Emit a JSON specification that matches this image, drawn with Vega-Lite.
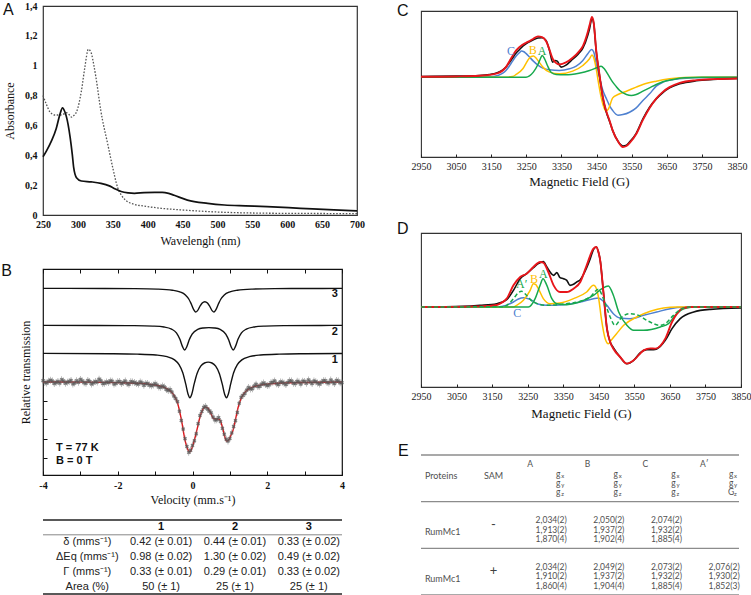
{
"$schema": "https://vega.github.io/schema/vega-lite/v6.json",
"background": "white",
"padding": {"left": 0, "top": 0, "right": 0, "bottom": 0},
"config": {"view": {"stroke": null}, "axis": {"grid": false}},
"datasets": {
"absorb": [
{"nm":250,"abs":0.39,"s":"solid"},{"nm":255,"abs":0.43,"s":"solid"},{"nm":262,"abs":0.495,"s":"solid"},{"nm":269,"abs":0.58,"s":"solid"},{"nm":274,"abs":0.67,"s":"solid"},{"nm":278,"abs":0.718,"s":"solid"},{"nm":281,"abs":0.695,"s":"solid"},{"nm":286,"abs":0.606,"s":"solid"},{"nm":289,"abs":0.517,"s":"solid"},{"nm":292,"abs":0.405,"s":"solid"},{"nm":294,"abs":0.317,"s":"solid"},{"nm":298,"abs":0.25,"s":"solid"},{"nm":305,"abs":0.228,"s":"solid"},{"nm":319,"abs":0.222,"s":"solid"},{"nm":333,"abs":0.212,"s":"solid"},{"nm":345,"abs":0.195,"s":"solid"},{"nm":352,"abs":0.178,"s":"solid"},{"nm":362,"abs":0.157,"s":"solid"},{"nm":372,"abs":0.148,"s":"solid"},{"nm":381,"abs":0.145,"s":"solid"},{"nm":395,"abs":0.15,"s":"solid"},{"nm":410,"abs":0.152,"s":"solid"},{"nm":421,"abs":0.152,"s":"solid"},{"nm":430,"abs":0.145,"s":"solid"},{"nm":438,"abs":0.132,"s":"solid"},{"nm":457,"abs":0.1,"s":"solid"},{"nm":486,"abs":0.078,"s":"solid"},{"nm":510,"abs":0.067,"s":"solid"},{"nm":540,"abs":0.061,"s":"solid"},{"nm":571,"abs":0.056,"s":"solid"},{"nm":619,"abs":0.045,"s":"solid"},{"nm":667,"abs":0.034,"s":"solid"},{"nm":700,"abs":0.028,"s":"solid"},
{"nm":250,"abs":0.8,"s":"dotted"},{"nm":255,"abs":0.74,"s":"dotted"},{"nm":260,"abs":0.69,"s":"dotted"},{"nm":267,"abs":0.67,"s":"dotted"},{"nm":274,"abs":0.67,"s":"dotted"},{"nm":279,"abs":0.675,"s":"dotted"},{"nm":284,"abs":0.685,"s":"dotted"},{"nm":288,"abs":0.67,"s":"dotted"},{"nm":291,"abs":0.655,"s":"dotted"},{"nm":295,"abs":0.67,"s":"dotted"},{"nm":298,"abs":0.69,"s":"dotted"},{"nm":305,"abs":0.83,"s":"dotted"},{"nm":310,"abs":0.99,"s":"dotted"},{"nm":315,"abs":1.11,"s":"dotted"},{"nm":319,"abs":1.087,"s":"dotted"},{"nm":323,"abs":1.0,"s":"dotted"},{"nm":326,"abs":0.918,"s":"dotted"},{"nm":333,"abs":0.695,"s":"dotted"},{"nm":343,"abs":0.47,"s":"dotted"},{"nm":350,"abs":0.316,"s":"dotted"},{"nm":357,"abs":0.183,"s":"dotted"},{"nm":362,"abs":0.135,"s":"dotted"},{"nm":367,"abs":0.105,"s":"dotted"},{"nm":381,"abs":0.071,"s":"dotted"},{"nm":395,"abs":0.06,"s":"dotted"},{"nm":419,"abs":0.045,"s":"dotted"},{"nm":452,"abs":0.033,"s":"dotted"},{"nm":500,"abs":0.02,"s":"dotted"},{"nm":571,"abs":0.012,"s":"dotted"},{"nm":650,"abs":0.01,"s":"dotted"},{"nm":700,"abs":0.009,"s":"dotted"}
],
"mossComp": [
{"v":-4,"t":186.6,"s":"3"},{"v":-3.34,"t":186.6,"s":"3"},{"v":-2.34,"t":186.5,"s":"3"},{"v":-1.54,"t":186.35,"s":"3"},{"v":-0.94,"t":185.9,"s":"3"},{"v":-0.54,"t":184.8,"s":"3"},{"v":-0.34,"t":183.2,"s":"3"},{"v":-0.19,"t":180.1,"s":"3"},{"v":-0.1,"t":176.0,"s":"3"},{"v":-0.04,"t":171.6,"s":"3"},{"v":0.04,"t":164.8,"s":"3"},{"v":0.085,"t":163.0,"s":"3"},{"v":0.13,"t":164.1,"s":"3"},{"v":0.2,"t":168.75,"s":"3"},{"v":0.26,"t":172.0,"s":"3"},{"v":0.33,"t":173.3,"s":"3"},{"v":0.4,"t":172.0,"s":"3"},{"v":0.46,"t":168.75,"s":"3"},{"v":0.53,"t":164.1,"s":"3"},{"v":0.575,"t":163.0,"s":"3"},{"v":0.62,"t":164.8,"s":"3"},{"v":0.7,"t":171.6,"s":"3"},{"v":0.76,"t":176.0,"s":"3"},{"v":0.85,"t":180.1,"s":"3"},{"v":1.0,"t":183.2,"s":"3"},{"v":1.2,"t":184.8,"s":"3"},{"v":1.6,"t":185.9,"s":"3"},{"v":2.2,"t":186.35,"s":"3"},{"v":3.0,"t":186.5,"s":"3"},{"v":4,"t":186.6,"s":"3"},
{"v":-4,"t":149.6,"s":"2"},{"v":-2.56,"t":149.55,"s":"2"},{"v":-1.56,"t":149.35,"s":"2"},{"v":-1.06,"t":148.9,"s":"2"},{"v":-0.76,"t":148.0,"s":"2"},{"v":-0.56,"t":145.9,"s":"2"},{"v":-0.43,"t":142.1,"s":"2"},{"v":-0.34,"t":135.9,"s":"2"},{"v":-0.27,"t":128.6,"s":"2"},{"v":-0.21,"t":125.0,"s":"2"},{"v":-0.15,"t":128.5,"s":"2"},{"v":-0.09,"t":134.9,"s":"2"},{"v":-0.01,"t":140.9,"s":"2"},{"v":0.14,"t":145.6,"s":"2"},{"v":0.29,"t":147.0,"s":"2"},{"v":0.44,"t":147.4,"s":"2"},{"v":0.59,"t":147.0,"s":"2"},{"v":0.74,"t":145.6,"s":"2"},{"v":0.89,"t":140.9,"s":"2"},{"v":0.97,"t":134.9,"s":"2"},{"v":1.03,"t":128.5,"s":"2"},{"v":1.09,"t":125.0,"s":"2"},{"v":1.15,"t":128.6,"s":"2"},{"v":1.22,"t":135.9,"s":"2"},{"v":1.31,"t":142.1,"s":"2"},{"v":1.44,"t":145.9,"s":"2"},{"v":1.64,"t":148.0,"s":"2"},{"v":1.94,"t":148.9,"s":"2"},{"v":2.44,"t":149.35,"s":"2"},{"v":3.44,"t":149.55,"s":"2"},{"v":4,"t":149.6,"s":"2"},
{"v":-4,"t":121.6,"s":"1"},{"v":-2.18,"t":121.3,"s":"1"},{"v":-1.48,"t":120.9,"s":"1"},{"v":-0.98,"t":120.0,"s":"1"},{"v":-0.68,"t":118.3,"s":"1"},{"v":-0.48,"t":115.1,"s":"1"},{"v":-0.36,"t":110.4,"s":"1"},{"v":-0.26,"t":102.3,"s":"1"},{"v":-0.18,"t":90.8,"s":"1"},{"v":-0.12,"t":81.05,"s":"1"},{"v":-0.07,"t":77.3,"s":"1"},{"v":-0.02,"t":80.8,"s":"1"},{"v":0.04,"t":90.3,"s":"1"},{"v":0.12,"t":101.3,"s":"1"},{"v":0.22,"t":108.8,"s":"1"},{"v":0.32,"t":112.0,"s":"1"},{"v":0.42,"t":112.9,"s":"1"},{"v":0.52,"t":112.0,"s":"1"},{"v":0.62,"t":108.8,"s":"1"},{"v":0.72,"t":101.3,"s":"1"},{"v":0.8,"t":90.3,"s":"1"},{"v":0.86,"t":80.8,"s":"1"},{"v":0.91,"t":77.3,"s":"1"},{"v":0.96,"t":81.05,"s":"1"},{"v":1.02,"t":90.8,"s":"1"},{"v":1.1,"t":102.3,"s":"1"},{"v":1.2,"t":110.4,"s":"1"},{"v":1.32,"t":115.1,"s":"1"},{"v":1.52,"t":118.3,"s":"1"},{"v":1.82,"t":120.0,"s":"1"},{"v":2.32,"t":120.9,"s":"1"},{"v":3.02,"t":121.3,"s":"1"},{"v":4,"t":121.5,"s":"1"}
],
"mossFit": [
{"v":-4,"t":93.05},{"v":-3,"t":92.9},{"v":-2,"t":92.4},{"v":-1.5,"t":91.8},{"v":-1.0,"t":90.0},{"v":-0.8,"t":88.2},{"v":-0.6,"t":84.2},{"v":-0.5,"t":80.0},{"v":-0.4,"t":72.0},{"v":-0.3,"t":55.8},{"v":-0.2,"t":34.8},{"v":-0.12,"t":25.1},{"v":-0.07,"t":23.15},{"v":0.0,"t":28.4},{"v":0.06,"t":36.2},{"v":0.12,"t":45.35},{"v":0.2,"t":58.05},{"v":0.28,"t":65.84},{"v":0.33,"t":67.9},{"v":0.4,"t":67.4},{"v":0.48,"t":62.5},{"v":0.56,"t":56.5},{"v":0.64,"t":56.0},{"v":0.72,"t":55.6},{"v":0.8,"t":47.9},{"v":0.86,"t":38.7},{"v":0.91,"t":33.9},{"v":0.96,"t":34.7},{"v":1.02,"t":39.05},{"v":1.09,"t":45.4},{"v":1.15,"t":55.5},{"v":1.22,"t":67.5},{"v":1.3,"t":76.6},{"v":1.4,"t":82.6},{"v":1.5,"t":85.9},{"v":1.7,"t":89.0},{"v":2.0,"t":90.9},{"v":2.5,"t":92.1},{"v":3,"t":92.55},{"v":4,"t":92.93}
],
"mossPts": [
{"v":-4.0,"t":94.3},{"v":-3.9,"t":92.1},{"v":-3.8,"t":94.8},{"v":-3.7,"t":91.6},{"v":-3.6,"t":93.6},{"v":-3.5,"t":95.3},{"v":-3.4,"t":91.8},{"v":-3.3,"t":93.4},{"v":-3.2,"t":91.1},{"v":-3.1,"t":94.2},{"v":-3.0,"t":95.6},{"v":-2.9,"t":92.3},{"v":-2.8,"t":94.4},{"v":-2.7,"t":91.1},{"v":-2.6,"t":93.4},{"v":-2.5,"t":95.8},{"v":-2.4,"t":91.5},{"v":-2.3,"t":93.0},{"v":-2.2,"t":94.0},{"v":-2.1,"t":90.9},{"v":-2.0,"t":93.2},{"v":-1.9,"t":91.5},{"v":-1.8,"t":93.9},{"v":-1.7,"t":90.7},{"v":-1.6,"t":92.9},{"v":-1.5,"t":91.4},{"v":-1.4,"t":93.0},{"v":-1.3,"t":89.7},{"v":-1.2,"t":91.4},{"v":-1.1,"t":89.3},{"v":-1.0,"t":91.3},{"v":-0.9,"t":87.9},{"v":-0.8,"t":88.9},{"v":-0.7,"t":85.4},{"v":-0.6,"t":85.3},{"v":-0.5,"t":79.0},{"v":-0.4,"t":73.3},{"v":-0.3,"t":54.4},{"v":-0.2,"t":36.3},{"v":-0.1,"t":22.7},{"v":0.0,"t":29.5},{"v":0.1,"t":41.2},{"v":0.2,"t":59.5},{"v":0.3,"t":67.6},{"v":0.4,"t":66.0},{"v":0.5,"t":62.2},{"v":0.6,"t":55.1},{"v":0.7,"t":57.3},{"v":0.8,"t":46.7},{"v":0.9,"t":35.8},{"v":1.0,"t":36.4},{"v":1.1,"t":48.4},{"v":1.2,"t":62.5},{"v":1.3,"t":77.7},{"v":1.4,"t":81.4},{"v":1.5,"t":87.4},{"v":1.6,"t":86.3},{"v":1.7,"t":90.8},{"v":1.8,"t":88.7},{"v":1.9,"t":91.9},{"v":2.0,"t":89.5},{"v":2.1,"t":92.3},{"v":2.2,"t":94.1},{"v":2.3,"t":90.4},{"v":2.4,"t":92.8},{"v":2.5,"t":90.4},{"v":2.6,"t":94.2},{"v":2.7,"t":91.8},{"v":2.8,"t":93.7},{"v":2.9,"t":90.9},{"v":3.0,"t":93.6},{"v":3.1,"t":95.1},{"v":3.2,"t":91.5},{"v":3.3,"t":93.3},{"v":3.4,"t":90.9},{"v":3.5,"t":94.2},{"v":3.6,"t":92.4},{"v":3.7,"t":94.9},{"v":3.8,"t":91.5},{"v":3.9,"t":93.9},{"v":4.0,"t":92.3},
{"v":-3.95,"t":92.6},{"v":-3.85,"t":93.7},{"v":-3.75,"t":93.9},{"v":-3.65,"t":92.5},{"v":-3.55,"t":91.9},{"v":-3.45,"t":94.0},{"v":-3.35,"t":92.8},{"v":-3.25,"t":94.5},{"v":-3.15,"t":92.0},{"v":-3.05,"t":92.7},{"v":-2.95,"t":94.1},{"v":-2.85,"t":91.7},{"v":-2.75,"t":93.6},{"v":-2.65,"t":92.2},{"v":-2.55,"t":93.0},{"v":-2.45,"t":94.2},{"v":-2.35,"t":91.8},{"v":-2.25,"t":92.4},{"v":-2.15,"t":93.8},{"v":-2.05,"t":91.7},{"v":-1.95,"t":93.4},{"v":-1.85,"t":92.6},{"v":-1.75,"t":91.6},{"v":-1.65,"t":93.3},{"v":-1.55,"t":92.4},{"v":-1.45,"t":90.9},{"v":-1.35,"t":92.1},{"v":-1.25,"t":91.6},{"v":-1.15,"t":89.9},{"v":-1.05,"t":90.1},{"v":-0.95,"t":89.9},{"v":-0.85,"t":87.8},{"v":-0.75,"t":87.9},{"v":-0.65,"t":84.6},{"v":-0.55,"t":82.9},{"v":-0.45,"t":76.6},{"v":-0.35,"t":63.8},{"v":-0.25,"t":45.9},{"v":-0.15,"t":28.6},{"v":-0.05,"t":24.7},{"v":0.05,"t":34.2},{"v":0.15,"t":51.3},{"v":0.25,"t":63.4},{"v":0.35,"t":68.4},{"v":0.45,"t":63.9},{"v":0.55,"t":57.9},{"v":0.65,"t":55.2},{"v":0.75,"t":53.6},{"v":0.85,"t":40.8},{"v":0.95,"t":33.9},{"v":1.05,"t":42.1},{"v":1.15,"t":54.3},{"v":1.25,"t":71.8},{"v":1.35,"t":79.6},{"v":1.45,"t":84.8},{"v":1.55,"t":86.1},{"v":1.65,"t":88.9},{"v":1.75,"t":88.4},{"v":1.85,"t":90.8},{"v":1.95,"t":90.6},{"v":2.05,"t":90.1},{"v":2.15,"t":92.7},{"v":2.25,"t":91.3},{"v":2.35,"t":93.1},{"v":2.45,"t":91.7},{"v":2.55,"t":92.5},{"v":2.65,"t":93.9},{"v":2.75,"t":91.6},{"v":2.85,"t":92.9},{"v":2.95,"t":93.8},{"v":3.05,"t":91.8},{"v":3.15,"t":93.1},{"v":3.25,"t":94.0},{"v":3.35,"t":91.9},{"v":3.45,"t":92.7},{"v":3.55,"t":94.3},{"v":3.65,"t":92.1},{"v":3.75,"t":93.0},{"v":3.85,"t":94.4},{"v":3.95,"t":92.2}
],
"mossLab": [{"v":3.81,"t":180.7,"lab":"3"},{"v":3.81,"t":143.3,"lab":"2"},{"v":3.81,"t":115,"lab":"1"}],
"mossCond": [{"v":-3.65,"t":27.3,"lab":"T = 77 K"},{"v":-3.65,"t":14,"lab":"B = 0 T"}],
"eprC": [
{"G":2950,"i":2,"s":"exp"},{"G":3050,"i":3,"s":"exp"},{"G":3116,"i":5,"s":"exp"},{"G":3145,"i":8,"s":"exp"},{"G":3169,"i":14,"s":"exp"},{"G":3183,"i":22,"s":"exp"},{"G":3192,"i":30,"s":"exp"},{"G":3206,"i":50,"s":"exp"},{"G":3221,"i":72,"s":"exp"},{"G":3230,"i":82,"s":"exp"},{"G":3240,"i":93,"s":"exp"},{"G":3249,"i":100,"s":"exp"},{"G":3259,"i":106,"s":"exp"},{"G":3270,"i":112,"s":"exp"},{"G":3283,"i":117,"s":"exp"},{"G":3295,"i":118,"s":"exp"},{"G":3306,"i":110,"s":"exp"},{"G":3316,"i":80,"s":"exp"},{"G":3325,"i":45,"s":"exp"},{"G":3332,"i":50,"s":"exp"},{"G":3338,"i":48,"s":"exp"},{"G":3349,"i":30,"s":"exp"},{"G":3363,"i":36,"s":"exp"},{"G":3373,"i":45,"s":"exp"},{"G":3382,"i":54,"s":"exp"},{"G":3392,"i":63,"s":"exp"},{"G":3401,"i":73,"s":"exp"},{"G":3411,"i":87,"s":"exp"},{"G":3425,"i":125,"s":"exp"},{"G":3430,"i":145,"s":"exp"},{"G":3437,"i":176,"s":"exp"},{"G":3442,"i":160,"s":"exp"},{"G":3449,"i":78,"s":"exp"},{"G":3458,"i":8,"s":"exp"},{"G":3468,"i":-62,"s":"exp"},{"G":3477,"i":-102,"s":"exp"},{"G":3487,"i":-132,"s":"exp"},{"G":3496,"i":-160,"s":"exp"},{"G":3511,"i":-192,"s":"exp"},{"G":3525,"i":-206,"s":"exp"},{"G":3535,"i":-204,"s":"exp"},{"G":3545,"i":-193,"s":"exp"},{"G":3563,"i":-168,"s":"exp"},{"G":3582,"i":-125,"s":"exp"},{"G":3601,"i":-90,"s":"exp"},{"G":3620,"i":-65,"s":"exp"},{"G":3639,"i":-46,"s":"exp"},{"G":3658,"i":-32,"s":"exp"},{"G":3687,"i":-20,"s":"exp"},{"G":3734,"i":-11,"s":"exp"},{"G":3782,"i":-7,"s":"exp"},{"G":3850,"i":-4,"s":"exp"},
{"G":2950,"i":1,"s":"fit"},{"G":3050,"i":2,"s":"fit"},{"G":3116,"i":4,"s":"fit"},{"G":3169,"i":12,"s":"fit"},{"G":3192,"i":30,"s":"fit"},{"G":3206,"i":55,"s":"fit"},{"G":3221,"i":80,"s":"fit"},{"G":3230,"i":90,"s":"fit"},{"G":3249,"i":103,"s":"fit"},{"G":3259,"i":108,"s":"fit"},{"G":3270,"i":115,"s":"fit"},{"G":3283,"i":122,"s":"fit"},{"G":3295,"i":120,"s":"fit"},{"G":3306,"i":108,"s":"fit"},{"G":3316,"i":82,"s":"fit"},{"G":3325,"i":55,"s":"fit"},{"G":3335,"i":42,"s":"fit"},{"G":3344,"i":38,"s":"fit"},{"G":3363,"i":44,"s":"fit"},{"G":3382,"i":58,"s":"fit"},{"G":3401,"i":78,"s":"fit"},{"G":3411,"i":93,"s":"fit"},{"G":3425,"i":135,"s":"fit"},{"G":3430,"i":155,"s":"fit"},{"G":3437,"i":180,"s":"fit"},{"G":3442,"i":162,"s":"fit"},{"G":3449,"i":80,"s":"fit"},{"G":3458,"i":10,"s":"fit"},{"G":3468,"i":-60,"s":"fit"},{"G":3477,"i":-100,"s":"fit"},{"G":3487,"i":-130,"s":"fit"},{"G":3496,"i":-160,"s":"fit"},{"G":3511,"i":-192,"s":"fit"},{"G":3525,"i":-209,"s":"fit"},{"G":3535,"i":-206,"s":"fit"},{"G":3545,"i":-196,"s":"fit"},{"G":3563,"i":-170,"s":"fit"},{"G":3582,"i":-128,"s":"fit"},{"G":3601,"i":-92,"s":"fit"},{"G":3620,"i":-64,"s":"fit"},{"G":3639,"i":-44,"s":"fit"},{"G":3658,"i":-30,"s":"fit"},{"G":3687,"i":-17,"s":"fit"},{"G":3734,"i":-9,"s":"fit"},{"G":3782,"i":-6,"s":"fit"},{"G":3850,"i":-4,"s":"fit"},
{"G":2950,"i":0,"s":"C"},{"G":3145,"i":1,"s":"C"},{"G":3169,"i":5,"s":"C"},{"G":3183,"i":12,"s":"C"},{"G":3192,"i":20,"s":"C"},{"G":3206,"i":40,"s":"C"},{"G":3221,"i":63,"s":"C"},{"G":3230,"i":73,"s":"C"},{"G":3236,"i":78,"s":"C"},{"G":3243,"i":76,"s":"C"},{"G":3249,"i":71,"s":"C"},{"G":3259,"i":60,"s":"C"},{"G":3270,"i":48,"s":"C"},{"G":3283,"i":36,"s":"C"},{"G":3297,"i":27,"s":"C"},{"G":3316,"i":22,"s":"C"},{"G":3344,"i":20,"s":"C"},{"G":3373,"i":25,"s":"C"},{"G":3392,"i":33,"s":"C"},{"G":3411,"i":50,"s":"C"},{"G":3425,"i":70,"s":"C"},{"G":3436,"i":83,"s":"C"},{"G":3442,"i":75,"s":"C"},{"G":3449,"i":40,"s":"C"},{"G":3458,"i":0,"s":"C"},{"G":3468,"i":-40,"s":"C"},{"G":3477,"i":-62,"s":"C"},{"G":3487,"i":-85,"s":"C"},{"G":3496,"i":-100,"s":"C"},{"G":3511,"i":-114,"s":"C"},{"G":3525,"i":-112,"s":"C"},{"G":3544,"i":-105,"s":"C"},{"G":3563,"i":-92,"s":"C"},{"G":3582,"i":-70,"s":"C"},{"G":3601,"i":-50,"s":"C"},{"G":3620,"i":-27,"s":"C"},{"G":3639,"i":-15,"s":"C"},{"G":3668,"i":-7,"s":"C"},{"G":3706,"i":-3,"s":"C"},{"G":3782,"i":-1,"s":"C"},{"G":3850,"i":0,"s":"C"},
{"G":2950,"i":0,"s":"B"},{"G":3192,"i":0,"s":"B"},{"G":3211,"i":2,"s":"B"},{"G":3221,"i":8,"s":"B"},{"G":3240,"i":25,"s":"B"},{"G":3254,"i":50,"s":"B"},{"G":3264,"i":62,"s":"B"},{"G":3270,"i":63,"s":"B"},{"G":3277,"i":58,"s":"B"},{"G":3283,"i":50,"s":"B"},{"G":3297,"i":30,"s":"B"},{"G":3316,"i":15,"s":"B"},{"G":3344,"i":10,"s":"B"},{"G":3382,"i":18,"s":"B"},{"G":3411,"i":35,"s":"B"},{"G":3430,"i":55,"s":"B"},{"G":3437,"i":66,"s":"B"},{"G":3442,"i":58,"s":"B"},{"G":3449,"i":25,"s":"B"},{"G":3456,"i":-20,"s":"B"},{"G":3463,"i":-60,"s":"B"},{"G":3470,"i":-88,"s":"B"},{"G":3477,"i":-102,"s":"B"},{"G":3484,"i":-95,"s":"B"},{"G":3496,"i":-62,"s":"B"},{"G":3511,"i":-52,"s":"B"},{"G":3535,"i":-42,"s":"B"},{"G":3563,"i":-30,"s":"B"},{"G":3582,"i":-22,"s":"B"},{"G":3620,"i":-12,"s":"B"},{"G":3658,"i":-5,"s":"B"},{"G":3700,"i":-1,"s":"B"},{"G":3750,"i":0,"s":"B"},{"G":3850,"i":0,"s":"B"},
{"G":2950,"i":0,"s":"A"},{"G":3249,"i":0,"s":"A"},{"G":3259,"i":4,"s":"A"},{"G":3270,"i":15,"s":"A"},{"G":3283,"i":38,"s":"A"},{"G":3290,"i":55,"s":"A"},{"G":3295,"i":65,"s":"A"},{"G":3302,"i":55,"s":"A"},{"G":3310,"i":35,"s":"A"},{"G":3321,"i":14,"s":"A"},{"G":3335,"i":8,"s":"A"},{"G":3360,"i":7,"s":"A"},{"G":3400,"i":12,"s":"A"},{"G":3430,"i":20,"s":"A"},{"G":3450,"i":28,"s":"A"},{"G":3463,"i":33,"s":"A"},{"G":3472,"i":25,"s":"A"},{"G":3487,"i":0,"s":"A"},{"G":3496,"i":-15,"s":"A"},{"G":3506,"i":-28,"s":"A"},{"G":3516,"i":-40,"s":"A"},{"G":3535,"i":-52,"s":"A"},{"G":3549,"i":-55,"s":"A"},{"G":3563,"i":-52,"s":"A"},{"G":3582,"i":-42,"s":"A"},{"G":3601,"i":-32,"s":"A"},{"G":3620,"i":-22,"s":"A"},{"G":3639,"i":-14,"s":"A"},{"G":3668,"i":-7,"s":"A"},{"G":3700,"i":-2,"s":"A"},{"G":3750,"i":0,"s":"A"},{"G":3850,"i":0,"s":"A"}
],
"eprCLab": [{"G":3206,"i":78,"t":"C","s":"C"},{"G":3268,"i":80,"t":"B","s":"B"},{"G":3295,"i":78,"t":"A","s":"A"}],
"eprD": [
{"G":2950,"i":0,"s":"exp"},{"G":3069,"i":2,"s":"exp"},{"G":3116,"i":5,"s":"exp"},{"G":3163,"i":10,"s":"exp"},{"G":3191,"i":22,"s":"exp"},{"G":3210,"i":50,"s":"exp"},{"G":3229,"i":85,"s":"exp"},{"G":3247,"i":100,"s":"exp"},{"G":3266,"i":118,"s":"exp"},{"G":3280,"i":130,"s":"exp"},{"G":3294,"i":136,"s":"exp"},{"G":3304,"i":120,"s":"exp"},{"G":3313,"i":105,"s":"exp"},{"G":3323,"i":95,"s":"exp"},{"G":3332,"i":103,"s":"exp"},{"G":3341,"i":88,"s":"exp"},{"G":3351,"i":85,"s":"exp"},{"G":3360,"i":80,"s":"exp"},{"G":3369,"i":65,"s":"exp"},{"G":3379,"i":68,"s":"exp"},{"G":3388,"i":75,"s":"exp"},{"G":3398,"i":82,"s":"exp"},{"G":3407,"i":98,"s":"exp"},{"G":3416,"i":118,"s":"exp"},{"G":3426,"i":145,"s":"exp"},{"G":3435,"i":172,"s":"exp"},{"G":3443,"i":180,"s":"exp"},{"G":3449,"i":165,"s":"exp"},{"G":3454,"i":140,"s":"exp"},{"G":3463,"i":45,"s":"exp"},{"G":3473,"i":-65,"s":"exp"},{"G":3482,"i":-105,"s":"exp"},{"G":3491,"i":-122,"s":"exp"},{"G":3510,"i":-150,"s":"exp"},{"G":3529,"i":-170,"s":"exp"},{"G":3548,"i":-160,"s":"exp"},{"G":3567,"i":-137,"s":"exp"},{"G":3585,"i":-128,"s":"exp"},{"G":3604,"i":-128,"s":"exp"},{"G":3623,"i":-118,"s":"exp"},{"G":3637,"i":-100,"s":"exp"},{"G":3656,"i":-65,"s":"exp"},{"G":3679,"i":-35,"s":"exp"},{"G":3717,"i":-15,"s":"exp"},{"G":3764,"i":-7,"s":"exp"},{"G":3850,"i":-3,"s":"exp"},
{"G":2950,"i":0,"s":"fit"},{"G":3116,"i":2,"s":"fit"},{"G":3163,"i":6,"s":"fit"},{"G":3172,"i":10,"s":"fit"},{"G":3191,"i":25,"s":"fit"},{"G":3210,"i":65,"s":"fit"},{"G":3229,"i":90,"s":"fit"},{"G":3247,"i":100,"s":"fit"},{"G":3266,"i":120,"s":"fit"},{"G":3285,"i":135,"s":"fit"},{"G":3294,"i":133,"s":"fit"},{"G":3308,"i":105,"s":"fit"},{"G":3323,"i":65,"s":"fit"},{"G":3341,"i":45,"s":"fit"},{"G":3360,"i":45,"s":"fit"},{"G":3379,"i":55,"s":"fit"},{"G":3398,"i":75,"s":"fit"},{"G":3416,"i":125,"s":"fit"},{"G":3435,"i":175,"s":"fit"},{"G":3443,"i":180,"s":"fit"},{"G":3449,"i":165,"s":"fit"},{"G":3454,"i":140,"s":"fit"},{"G":3463,"i":45,"s":"fit"},{"G":3473,"i":-65,"s":"fit"},{"G":3482,"i":-105,"s":"fit"},{"G":3491,"i":-125,"s":"fit"},{"G":3510,"i":-150,"s":"fit"},{"G":3529,"i":-170,"s":"fit"},{"G":3548,"i":-160,"s":"fit"},{"G":3576,"i":-130,"s":"fit"},{"G":3595,"i":-124,"s":"fit"},{"G":3609,"i":-125,"s":"fit"},{"G":3637,"i":-95,"s":"fit"},{"G":3656,"i":-45,"s":"fit"},{"G":3670,"i":-20,"s":"fit"},{"G":3684,"i":-5,"s":"fit"},{"G":3707,"i":0,"s":"fit"},{"G":3850,"i":0,"s":"fit"},
{"G":2950,"i":0,"s":"C"},{"G":3172,"i":1,"s":"C"},{"G":3182,"i":3,"s":"C"},{"G":3210,"i":15,"s":"C"},{"G":3224,"i":24,"s":"C"},{"G":3238,"i":28,"s":"C"},{"G":3257,"i":23,"s":"C"},{"G":3276,"i":10,"s":"C"},{"G":3304,"i":5,"s":"C"},{"G":3351,"i":7,"s":"C"},{"G":3398,"i":15,"s":"C"},{"G":3435,"i":25,"s":"C"},{"G":3449,"i":27,"s":"C"},{"G":3463,"i":17,"s":"C"},{"G":3473,"i":5,"s":"C"},{"G":3491,"i":-20,"s":"C"},{"G":3510,"i":-33,"s":"C"},{"G":3538,"i":-35,"s":"C"},{"G":3576,"i":-25,"s":"C"},{"G":3613,"i":-15,"s":"C"},{"G":3651,"i":-5,"s":"C"},{"G":3689,"i":-1,"s":"C"},{"G":3850,"i":0,"s":"C"},
{"G":2950,"i":0,"s":"B"},{"G":3210,"i":0,"s":"B"},{"G":3219,"i":5,"s":"B"},{"G":3238,"i":20,"s":"B"},{"G":3257,"i":50,"s":"B"},{"G":3266,"i":70,"s":"B"},{"G":3272,"i":68,"s":"B"},{"G":3280,"i":55,"s":"B"},{"G":3294,"i":25,"s":"B"},{"G":3313,"i":10,"s":"B"},{"G":3341,"i":12,"s":"B"},{"G":3379,"i":25,"s":"B"},{"G":3416,"i":45,"s":"B"},{"G":3435,"i":65,"s":"B"},{"G":3440,"i":62,"s":"B"},{"G":3449,"i":30,"s":"B"},{"G":3458,"i":-40,"s":"B"},{"G":3468,"i":-95,"s":"B"},{"G":3477,"i":-110,"s":"B"},{"G":3486,"i":-98,"s":"B"},{"G":3500,"i":-80,"s":"B"},{"G":3520,"i":-55,"s":"B"},{"G":3557,"i":-30,"s":"B"},{"G":3595,"i":-13,"s":"B"},{"G":3632,"i":-3,"s":"B"},{"G":3670,"i":0,"s":"B"},{"G":3850,"i":0,"s":"B"},
{"G":2950,"i":0,"s":"A"},{"G":3252,"i":0,"s":"A"},{"G":3271,"i":25,"s":"A"},{"G":3285,"i":65,"s":"A"},{"G":3293,"i":85,"s":"A"},{"G":3304,"i":65,"s":"A"},{"G":3318,"i":25,"s":"A"},{"G":3332,"i":10,"s":"A"},{"G":3360,"i":7,"s":"A"},{"G":3407,"i":20,"s":"A"},{"G":3435,"i":35,"s":"A"},{"G":3459,"i":55,"s":"A"},{"G":3477,"i":63,"s":"A"},{"G":3491,"i":35,"s":"A"},{"G":3506,"i":-15,"s":"A"},{"G":3529,"i":-55,"s":"A"},{"G":3548,"i":-70,"s":"A"},{"G":3576,"i":-70,"s":"A"},{"G":3623,"i":-60,"s":"A"},{"G":3646,"i":-50,"s":"A"},{"G":3665,"i":-25,"s":"A"},{"G":3689,"i":-5,"s":"A"},{"G":3717,"i":0,"s":"A"},{"G":3850,"i":0,"s":"A"},
{"G":2950,"i":0,"s":"A′"},{"G":3182,"i":1,"s":"A′"},{"G":3191,"i":5,"s":"A′"},{"G":3210,"i":25,"s":"A′"},{"G":3224,"i":43,"s":"A′"},{"G":3233,"i":47,"s":"A′"},{"G":3247,"i":35,"s":"A′"},{"G":3266,"i":15,"s":"A′"},{"G":3304,"i":5,"s":"A′"},{"G":3351,"i":9,"s":"A′"},{"G":3398,"i":17,"s":"A′"},{"G":3426,"i":30,"s":"A′"},{"G":3449,"i":53,"s":"A′"},{"G":3463,"i":25,"s":"A′"},{"G":3482,"i":-30,"s":"A′"},{"G":3496,"i":-55,"s":"A′"},{"G":3515,"i":-30,"s":"A′"},{"G":3538,"i":-20,"s":"A′"},{"G":3562,"i":-25,"s":"A′"},{"G":3585,"i":-40,"s":"A′"},{"G":3623,"i":-55,"s":"A′"},{"G":3637,"i":-50,"s":"A′"},{"G":3660,"i":-25,"s":"A′"},{"G":3684,"i":-5,"s":"A′"},{"G":3707,"i":0,"s":"A′"},{"G":3850,"i":0,"s":"A′"}
],
"eprDLab": [{"G":3233,"i":70,"t":"A′","s":"A′"},{"G":3268,"i":85,"t":"B","s":"B"},{"G":3294,"i":100,"t":"A","s":"A"},{"G":3221,"i":-17,"t":"C","s":"C"}],
"tabB": [
{"c":1,"r":1,"t":"1"},{"c":2,"r":1,"t":"2"},{"c":3,"r":1,"t":"3"},
{"c":0,"r":3,"t":"δ (mms⁻¹)"},{"c":1,"r":3,"t":"0.42 (± 0.01)"},{"c":2,"r":3,"t":"0.44 (± 0.01)"},{"c":3,"r":3,"t":"0.33 (± 0.02)"},
{"c":0,"r":5,"t":"ΔEq (mms⁻¹)"},{"c":1,"r":5,"t":"0.98 (± 0.02)"},{"c":2,"r":5,"t":"1.30 (± 0.02)"},{"c":3,"r":5,"t":"0.49 (± 0.02)"},
{"c":0,"r":7,"t":"Γ (mms⁻¹)"},{"c":1,"r":7,"t":"0.33 (± 0.01)"},{"c":2,"r":7,"t":"0.29 (± 0.01)"},{"c":3,"r":7,"t":"0.33 (± 0.02)"},
{"c":0,"r":9,"t":"Area (%)"},{"c":1,"r":9,"t":"50 (± 1)"},{"c":2,"r":9,"t":"25 (± 1)"},{"c":3,"r":9,"t":"25 (± 1)"}
],
"tabBLines": [{"r":0},{"r":2},{"r":10}],
"tabE": [
{"col":"A","slot":1,"t":"A","k":"hdr"},{"col":"B","slot":1,"t":"B","k":"hdr"},{"col":"C","slot":1,"t":"C","k":"hdr"},{"col":"A′","slot":1,"t":"A′","k":"hdr"},
{"col":"Proteins","slot":2,"t":"Proteins","k":"lab"},{"col":"SAM","slot":2,"t":"SAM","k":"sam"},
{"col":"A","slot":2,"t":"g","k":"g"},{"col":"A","slot":3,"t":"g","k":"g"},{"col":"A","slot":4,"t":"g","k":"g"},
{"col":"B","slot":2,"t":"g","k":"g"},{"col":"B","slot":3,"t":"g","k":"g"},{"col":"B","slot":4,"t":"g","k":"g"},
{"col":"C","slot":2,"t":"g","k":"g"},{"col":"C","slot":3,"t":"g","k":"g"},{"col":"C","slot":4,"t":"g","k":"g"},
{"col":"A′","slot":2,"t":"g","k":"g"},{"col":"A′","slot":3,"t":"g","k":"g"},{"col":"A′","slot":4,"t":"G","k":"g"},
{"col":"A","slot":2,"t":"x","k":"sub"},{"col":"A","slot":3,"t":"y","k":"sub"},{"col":"A","slot":4,"t":"z","k":"sub"},
{"col":"B","slot":2,"t":"x","k":"sub"},{"col":"B","slot":3,"t":"y","k":"sub"},{"col":"B","slot":4,"t":"z","k":"sub"},
{"col":"C","slot":2,"t":"x","k":"sub"},{"col":"C","slot":3,"t":"y","k":"sub"},{"col":"C","slot":4,"t":"z","k":"sub"},
{"col":"A′","slot":2,"t":"x","k":"sub"},{"col":"A′","slot":3,"t":"y","k":"sub"},{"col":"A′","slot":4,"t":"z","k":"sub"},
{"col":"Proteins","slot":8,"t":"RumMc1","k":"lab"},{"col":"SAM","slot":8,"t":"-","k":"sign"},
{"col":"A","slot":7,"t":"2,034(2)","k":"val"},{"col":"A","slot":8,"t":"1,913(2)","k":"val"},{"col":"A","slot":9,"t":"1,870(4)","k":"val"},
{"col":"B","slot":7,"t":"2,050(2)","k":"val"},{"col":"B","slot":8,"t":"1,937(2)","k":"val"},{"col":"B","slot":9,"t":"1,902(4)","k":"val"},
{"col":"C","slot":7,"t":"2,074(2)","k":"val"},{"col":"C","slot":8,"t":"1,932(2)","k":"val"},{"col":"C","slot":9,"t":"1,885(4)","k":"val"},
{"col":"Proteins","slot":13,"t":"RumMc1","k":"lab"},{"col":"SAM","slot":13,"t":"+","k":"sign"},
{"col":"A","slot":12,"t":"2,034(2)","k":"val"},{"col":"A","slot":13,"t":"1,910(2)","k":"val"},{"col":"A","slot":14,"t":"1,860(4)","k":"val"},
{"col":"B","slot":12,"t":"2,049(2)","k":"val"},{"col":"B","slot":13,"t":"1,937(2)","k":"val"},{"col":"B","slot":14,"t":"1,904(4)","k":"val"},
{"col":"C","slot":12,"t":"2,073(2)","k":"val"},{"col":"C","slot":13,"t":"1,932(2)","k":"val"},{"col":"C","slot":14,"t":"1,885(4)","k":"val"},
{"col":"A′","slot":12,"t":"2,076(2)","k":"val"},{"col":"A′","slot":13,"t":"1,930(2)","k":"val"},{"col":"A′","slot":14,"t":"1,852(3)","k":"val"}
],
"tabELines": [{"slot":0},{"slot":5},{"slot":10},{"slot":15}]
},
"spacing": 30,
"hconcat": [
{
"vconcat": [
{
"width": 314, "height": 209,
"view": {"stroke": "#333", "strokeWidth": 1.2},
"data": {"name": "absorb"},
"encoding": {
"x": {"field": "nm", "type": "quantitative", "scale": {"domain": [250, 700], "nice": false, "zero": false},
"axis": {"values": [250,300,350,400,450,500,550,600,650,700], "format": "d", "labelFont": "Liberation Serif, Times New Roman, serif", "labelFontWeight": "bold", "labelFontSize": 10, "labelColor": "#111", "labelFlush": false, "labelOverlap": false, "labelPadding": 4, "ticks": false, "domain": false, "title": "Wavelengh (nm)", "titleFont": "Liberation Serif, Times New Roman, serif", "titleFontWeight": "normal", "titleFontSize": 12, "titleColor": "#111", "titlePadding": 6}},
"y": {"field": "abs", "type": "quantitative", "scale": {"domain": [0, 1.4], "nice": false, "zero": false},
"axis": {"values": [0,0.2,0.4,0.6,0.8,1,1.2,1.4], "labelExpr": "replace(format(datum.value, '~g'), '.', ',')", "labelFont": "Liberation Serif, Times New Roman, serif", "labelFontWeight": "bold", "labelFontSize": 10, "labelColor": "#111", "labelFlush": false, "labelOverlap": false, "labelPadding": 6, "ticks": false, "domain": false, "title": "Absorbance", "titleFont": "Liberation Serif, Times New Roman, serif", "titleFontWeight": "normal", "titleFontSize": 12, "titleColor": "#111", "titlePadding": 8}}
},
"layer": [
{"transform": [{"filter": "datum.s === 'dotted'"}], "mark": {"type": "line", "interpolate": "monotone", "color": "#555", "strokeWidth": 1.3, "strokeDash": [1.6, 1.6]}, "encoding": {}},
{"transform": [{"filter": "datum.s === 'solid'"}], "mark": {"type": "line", "interpolate": "monotone", "color": "#111", "strokeWidth": 1.7}, "encoding": {}},
{"data": {"values": [{"nm": 192.7, "abs": 1.34, "lab": "A"}]}, "mark": {"type": "text", "font": "Liberation Sans, Arial, sans-serif", "fontSize": 16, "align": "left", "baseline": "alphabetic", "color": "#111"}, "encoding": {"text": {"field": "lab"}}}
]
},
{"width": 1, "height": 46, "data": {"values": []}, "mark": "point"},
{
"width": 299, "height": 206,
"view": {"stroke": "#111", "strokeWidth": 1.2},
"resolve": {"axis": {"x": "independent"}},
"encoding": {
"x": {"field": "v", "type": "quantitative", "scale": {"domain": [-4, 4], "nice": false, "zero": false}, "axis": null},
"y": {"field": "t", "type": "quantitative", "scale": {"domain": [0, 206], "nice": false, "zero": false},
"axis": {"values": [17.3, 36.3, 55.7, 74.5], "labels": false, "offset": -4, "tickSize": 4, "tickColor": "#111", "domain": false, "title": "Relative transmission", "titleFont": "Liberation Serif, Times New Roman, serif", "titleFontWeight": "normal", "titleFontSize": 12, "titleColor": "#111", "titlePadding": 10}}
},
"layer": [
{"data": {"name": "mossComp"}, "mark": {"type": "line", "interpolate": "monotone", "color": "#111", "strokeWidth": 1.4}, "encoding": {"detail": {"field": "s"},
"x": {"field": "v", "type": "quantitative", "scale": {"domain": [-4, 4], "nice": false, "zero": false},
"axis": {"orient": "bottom", "values": [-4,-3,-2,-1,0,1,2,3,4], "labelExpr": "datum.value % 2 == 0 ? toString(datum.value) : ''", "labelFont": "Liberation Serif, Times New Roman, serif", "labelFontWeight": "bold", "labelFontSize": 10, "labelColor": "#111", "labelFlush": false, "labelOverlap": false, "labelPadding": 5, "offset": -4, "tickSize": 4, "tickColor": "#111", "domain": false, "title": "Velocity (mm.s⁻¹)", "titleFont": "Liberation Serif, Times New Roman, serif", "titleFontWeight": "normal", "titleFontSize": 12, "titleColor": "#111", "titlePadding": 4}}}},
{"data": {"name": "mossFit"}, "mark": {"type": "line", "interpolate": "monotone", "color": "#e0161b", "strokeWidth": 1.4}, "encoding": {
"x": {"field": "v", "type": "quantitative", "scale": {"domain": [-4, 4], "nice": false, "zero": false},
"axis": {"orient": "top", "values": [-4,-3,-2,-1,0,1,2,3,4], "labels": false, "offset": -4, "tickSize": 4, "tickColor": "#111", "domain": false, "title": null}}}},
{"data": {"name": "mossPts"}, "mark": {"type": "tick", "orient": "vertical", "size": 7, "thickness": 0.6, "color": "#777", "opacity": 0.8}, "encoding": {}},
{"data": {"name": "mossPts"}, "mark": {"type": "point", "shape": "cross", "angle": 45, "filled": true, "size": 16, "color": "#555", "opacity": 0.75}, "encoding": {}},
{"data": {"name": "mossLab"}, "mark": {"type": "text", "font": "Liberation Sans, Arial, sans-serif", "fontWeight": "bold", "fontSize": 11, "align": "center", "baseline": "middle", "color": "#111"}, "encoding": {"text": {"field": "lab"}}},
{"data": {"name": "mossCond"}, "mark": {"type": "text", "font": "Liberation Sans, Arial, sans-serif", "fontWeight": "bold", "fontSize": 11, "align": "left", "baseline": "middle", "color": "#111"}, "encoding": {"text": {"field": "lab"}}},
{"data": {"values": [{"v": -5.12, "t": 199, "lab": "B"}]}, "mark": {"type": "text", "font": "Liberation Sans, Arial, sans-serif", "fontSize": 16, "align": "left", "baseline": "alphabetic", "color": "#111"}, "encoding": {"text": {"field": "lab"}}}
]
},
{"width": 1, "height": 37, "data": {"values": []}, "mark": "point"},
{
"width": 299, "height": 74,
"layer": [
{"data": {"name": "tabBLines"}, "transform": [{"filter": "datum.r != 2"}], "mark": {"type": "rule", "color": "#222", "strokeWidth": 1.3}, "encoding": {"y": {"field": "r", "type": "quantitative", "scale": {"domain": [0, 10], "reverse": true, "nice": false, "zero": false}, "axis": null}}},
{"data": {"name": "tabBLines"}, "transform": [{"filter": "datum.r == 2"}], "mark": {"type": "rule", "color": "#888", "strokeWidth": 1}, "encoding": {"y": {"field": "r", "type": "quantitative", "axis": null}}},
{"data": {"name": "tabB"}, "transform": [{"filter": "datum.r == 1"}], "mark": {"type": "text", "font": "Liberation Sans, Arial, sans-serif", "fontSize": 11, "fontWeight": "bold", "color": "#111"}, "encoding": {"x": {"field": "c", "type": "quantitative", "scale": {"domain": [-0.6, 3.45], "nice": false, "zero": false}, "axis": null}, "y": {"field": "r", "type": "quantitative", "axis": null}, "text": {"field": "t"}}},
{"data": {"name": "tabB"}, "transform": [{"filter": "datum.r != 1"}], "mark": {"type": "text", "font": "Liberation Sans, Arial, sans-serif", "fontSize": 11, "color": "#222"}, "encoding": {"x": {"field": "c", "type": "quantitative", "axis": null}, "y": {"field": "r", "type": "quantitative", "axis": null}, "text": {"field": "t"}}}
]
}
],
"spacing": 4, "bounds": "flush"
},
{
"vconcat": [
{"width": 1, "height": 1, "data": {"values": []}, "mark": "point"},
{
"width": 316, "height": 146,
"view": {"stroke": "#333", "strokeWidth": 1.1},
"encoding": {
"x": {"field": "G", "type": "quantitative", "scale": {"domain": [2950, 3850], "nice": false, "zero": false},
"axis": {"values": [2950,3050,3150,3250,3350,3450,3550,3650,3750,3850], "format": "d", "labelFont": "Liberation Serif, Times New Roman, serif", "labelFontSize": 10, "labelColor": "#222", "labelFlush": false, "labelOverlap": false, "labelPadding": 4, "offset": -3, "tickSize": 3, "tickColor": "#222", "domain": false, "title": "Magnetic Field (G)", "titleFont": "Liberation Serif, Times New Roman, serif", "titleFontWeight": "normal", "titleFontSize": 13, "titleColor": "#111", "titlePadding": 4}},
"y": {"field": "i", "type": "quantitative", "scale": {"domain": [-239, 198], "nice": false, "zero": false}, "axis": null}
},
"layer": [
{"data": {"name": "eprC"}, "transform": [{"filter": "indexof(['A','B','C'], datum.s) >= 0"}], "mark": {"type": "line", "interpolate": "monotone", "strokeWidth": 1.5}, "encoding": {"color": {"field": "s", "type": "nominal", "scale": {"domain": ["A","B","C","A′"], "range": ["#17a94d","#ffc000","#4f81d0","#17a94d"]}, "legend": null}}},
{"data": {"name": "eprC"}, "transform": [{"filter": "datum.s === 'exp'"}], "mark": {"type": "line", "interpolate": "monotone", "color": "#111", "strokeWidth": 1.6}, "encoding": {}},
{"data": {"name": "eprC"}, "transform": [{"filter": "datum.s === 'fit'"}], "mark": {"type": "line", "interpolate": "monotone", "color": "#e8161b", "strokeWidth": 1.9}, "encoding": {}},
{"data": {"name": "eprCLab"}, "mark": {"type": "text", "font": "Liberation Serif, Times New Roman, serif", "fontSize": 12, "baseline": "middle"}, "encoding": {"text": {"field": "t"}, "color": {"field": "s", "type": "nominal", "legend": null}}},
{"data": {"values": [{"G": 2881.6, "i": 183, "lab": "C"}]}, "mark": {"type": "text", "font": "Liberation Sans, Arial, sans-serif", "fontSize": 16, "align": "left", "baseline": "alphabetic", "color": "#111"}, "encoding": {"text": {"field": "lab"}}}
]
},
{"width": 1, "height": 67.3, "data": {"values": []}, "mark": "point"},
{
"width": 320, "height": 154,
"view": {"stroke": "#333", "strokeWidth": 1.1},
"encoding": {
"x": {"field": "G", "type": "quantitative", "scale": {"domain": [2950, 3850], "nice": false, "zero": false},
"axis": {"values": [2950,3050,3150,3250,3350,3450,3550,3650,3750,3850], "format": "d", "labelFont": "Liberation Serif, Times New Roman, serif", "labelFontSize": 10, "labelColor": "#222", "labelFlush": false, "labelOverlap": false, "labelPadding": 4, "offset": -3, "tickSize": 3, "tickColor": "#222", "domain": false, "title": "Magnetic Field (G)", "titleFont": "Liberation Serif, Times New Roman, serif", "titleFontWeight": "normal", "titleFontSize": 13, "titleColor": "#111", "titlePadding": 6}},
"y": {"field": "i", "type": "quantitative", "scale": {"domain": [-240, 222], "nice": false, "zero": false}, "axis": null}
},
"layer": [
{"data": {"name": "eprD"}, "transform": [{"filter": "indexof(['A','B','C'], datum.s) >= 0"}], "mark": {"type": "line", "interpolate": "monotone", "strokeWidth": 1.5}, "encoding": {"color": {"field": "s", "type": "nominal", "scale": {"domain": ["A","B","C","A′"], "range": ["#17a94d","#ffc000","#4f81d0","#17a94d"]}, "legend": null}}},
{"data": {"name": "eprD"}, "transform": [{"filter": "datum.s === 'exp'"}], "mark": {"type": "line", "interpolate": "monotone", "color": "#111", "strokeWidth": 1.6}, "encoding": {}},
{"data": {"name": "eprD"}, "transform": [{"filter": "datum.s === 'fit'"}], "mark": {"type": "line", "interpolate": "monotone", "color": "#e8161b", "strokeWidth": 1.9}, "encoding": {}},
{"data": {"name": "eprD"}, "transform": [{"filter": "datum.s === 'A′'"}], "mark": {"type": "line", "interpolate": "monotone", "color": "#17a94d", "strokeWidth": 1.5, "strokeDash": [4, 2.5]}, "encoding": {}},
{"data": {"name": "eprDLab"}, "mark": {"type": "text", "font": "Liberation Serif, Times New Roman, serif", "fontSize": 12, "baseline": "middle"}, "encoding": {"text": {"field": "t"}, "color": {"field": "s", "type": "nominal", "legend": null}}},
{"data": {"values": [{"G": 2882.5, "i": 220, "lab": "D"}]}, "mark": {"type": "text", "font": "Liberation Sans, Arial, sans-serif", "fontSize": 16, "align": "left", "baseline": "alphabetic", "color": "#111"}, "encoding": {"text": {"field": "lab"}}}
]
},
{"width": 1, "height": 59.3, "data": {"values": []}, "mark": "point"},
{
"width": 318, "height": 140,
"encoding": {
"x": {"field": "col", "type": "nominal", "scale": {"type": "point", "domain": ["Proteins","SAM","A","B","C","A′"], "padding": 0.2585}, "axis": null},
"y": {"field": "slot", "type": "quantitative", "scale": {"domain": [0, 15], "reverse": true, "nice": false, "zero": false}, "axis": null},
"text": {"field": "t"}
},
"layer": [
{"data": {"name": "tabELines"}, "mark": {"type": "rule", "color": "#8c8c8c", "strokeWidth": 1.4}, "encoding": {"x": null, "text": null}},
{"data": {"name": "tabE"}, "transform": [{"filter": "datum.k === 'hdr'"}], "mark": {"type": "text", "font": "Lato", "fontSize": 8.5, "color": "#505050", "align": "left", "dx": -24}},
{"data": {"name": "tabE"}, "transform": [{"filter": "datum.k === 'g'"}], "mark": {"type": "text", "font": "Lato", "fontSize": 8.5, "color": "#505050", "align": "center", "dx": 7}},
{"data": {"name": "tabE"}, "transform": [{"filter": "datum.k === 'sub'"}], "mark": {"type": "text", "font": "Lato", "fontSize": 6, "color": "#505050", "align": "left", "dx": 10, "dy": 2}},
{"data": {"name": "tabE"}, "transform": [{"filter": "datum.k === 'lab'"}], "mark": {"type": "text", "font": "Lato", "fontSize": 9, "color": "#505050", "align": "left", "dx": -11, "dy": 2.5}},
{"data": {"name": "tabE"}, "transform": [{"filter": "datum.k === 'sam'"}], "mark": {"type": "text", "font": "Lato", "fontSize": 9, "color": "#505050", "align": "center", "dy": 2.5}},
{"data": {"name": "tabE"}, "transform": [{"filter": "datum.k === 'sign'"}], "mark": {"type": "text", "font": "Lato", "fontSize": 13, "color": "#404040", "align": "center", "dy": -5}},
{"data": {"name": "tabE"}, "transform": [{"filter": "datum.k === 'val'"}], "mark": {"type": "text", "font": "Lato", "fontSize": 8.5, "color": "#505050", "align": "center"}},
{"data": {"values": [{"lab": "E", "col": "Proteins", "slot": 0}]}, "mark": {"type": "text", "font": "Liberation Sans, Arial, sans-serif", "fontSize": 16, "align": "left", "baseline": "alphabetic", "color": "#111", "dx": -38, "dy": 1}, "encoding": {"text": {"field": "lab"}}}
]
}
],
"spacing": 4, "bounds": "flush"
}
]
}
